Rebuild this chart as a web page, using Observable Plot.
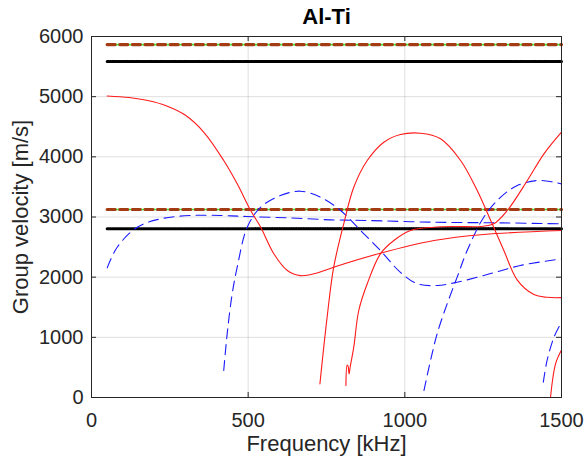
<!DOCTYPE html>
<html>
<head>
<meta charset="utf-8">
<script src="https://cdn.jsdelivr.net/npm/d3@7"></script>
<script src="https://cdn.jsdelivr.net/npm/@observablehq/plot@0.6"></script>
<style>
  html, body { margin: 0; padding: 0; background: #fff; }
  #chart svg { display: block; }
</style>
</head>
<body>
<div id="chart"></div>
<script>
// ---- data ----
const title = "Al-Ti";
const xLabel = "Frequency [kHz]";
const yLabel = "Group velocity [m/s]";
const xTicks = [0, 500, 1000, 1500];
const yTicks = [0, 1000, 2000, 3000, 4000, 5000, 6000];

// horizontal reference velocities (bulk waves)
const refFreq = [50, 1500];
const longVel = [5865, 3125];   // green solid + brown dashed
const shearVel = [5585, 2805];  // black dotted

// symmetric modes (red solid)
const red1 = [[50,5012],[120,4985],[180,4935],[240,4845],[300,4690],[360,4400],[422,3939],[465,3552],[508,3108],[540,2830],[582,2388],[625,2110],[667,2025],[720,2070],[773,2166],[922,2398],[1093,2609],[1252,2709],[1500,2775]];
const red2 = [[729,227],[752,1335],[773,2166],[805,2886],[837,3495],[880,3939],[933,4243],[986,4371],[1050,4393],[1114,4300],[1178,3939],[1231,3440],[1274,2942],[1316,2443],[1359,1950],[1412,1710],[1454,1665],[1500,1660]];
const red3 = [[812,200],[816,540],[819,520],[822,390],[826,520],[837,836],[853,1446],[880,1890],[922,2388],[965,2609],[1018,2775],[1093,2830],[1167,2842],[1242,2842],[1284,2886],[1327,3108],[1391,3607],[1444,4050],[1500,4410]];
const red4 = [[1465,5],[1481,560],[1500,790]];

// antisymmetric modes (blue dashed)
const blue1 = [[50,2155],[82,2498],[146,2830],[220,2969],[316,3025],[412,3025],[497,3008],[625,2986],[763,2953],[880,2942],[1093,2913],[1306,2903],[1500,2886]];
const blue2 = [[422,449],[433,1058],[449,1723],[465,2166],[497,2830],[540,3163],[603,3357],[667,3429],[731,3329],[795,3108],[859,2775],[922,2443],[986,2080],[1040,1890],[1103,1861],[1167,1916],[1263,2044],[1369,2194],[1500,2305]];
const blue3 = [[1061,116],[1082,615],[1103,1058],[1135,1557],[1167,2000],[1199,2443],[1252,2997],[1306,3329],[1359,3523],[1423,3607],[1476,3579],[1500,3551]];
const blue4 = [[1442,255],[1454,615],[1476,1002],[1500,1252]];

// ---- build ----
const redCurves = [red1, red2, red3, red4];
const blueCurves = [blue1, blue2, blue3, blue4];
const hLines = (vals) => vals.map(v => refFreq.map(f => [f, v]));

const W = 585, H = 468;
const mL = 91, mR = 24, mT = 36, mB = 71;
const xDom = [0, 1500], yDom = [0, 6000];
const tickPx = 5;
const tLenY = tickPx * (yDom[1] - yDom[0]) / (H - mT - mB);
const tLenX = tickPx * (xDom[1] - xDom[0]) / (W - mL - mR);
const ink = "#262626";
const fmt = d => String(d);

const marks = [
  Plot.gridX(xTicks, {stroke: "#000", strokeOpacity: 0.13}),
  Plot.gridY(yTicks, {stroke: "#000", strokeOpacity: 0.13}),
  // bulk-wave reference lines
  ...hLines(longVel).map(d => Plot.line(d, {x: "0", y: "1", stroke: "#33ff33", strokeWidth: 1.6})),
  ...hLines(longVel).map(d => Plot.line(d, {x: "0", y: "1", stroke: "#a33c14", strokeWidth: 3.2, strokeDasharray: "8,4.6"})),
  ...hLines(shearVel).map(d => Plot.line(d, {x: "0", y: "1", stroke: "#000", strokeWidth: 3, strokeDasharray: "1.6,0.8"})),
  // dispersion curves
  ...blueCurves.map(d => Plot.line(d, {x: "0", y: "1", stroke: "#1a1aff", strokeWidth: 1.1, strokeDasharray: "10,6", curve: "catmull-rom"})),
  ...redCurves.map(d => Plot.line(d, {x: "0", y: "1", stroke: "#ff1a1a", strokeWidth: 1.1, curve: "catmull-rom"})),
  // inward ticks (all four sides)
  Plot.ruleX(xTicks, {x: d => d, y1: yDom[0], y2: yDom[0] + tLenY, stroke: ink}),
  Plot.ruleX(xTicks, {x: d => d, y1: yDom[1] - tLenY, y2: yDom[1], stroke: ink}),
  Plot.ruleY(yTicks, {y: d => d, x1: xDom[0], x2: xDom[0] + tLenX, stroke: ink}),
  Plot.ruleY(yTicks, {y: d => d, x1: xDom[1] - tLenX, x2: xDom[1], stroke: ink}),
  Plot.frame({stroke: ink, strokeWidth: 1}),
  Plot.axisX(xTicks, {tickSize: 0, tickPadding: 15, fontSize: 20, fill: ink, label: null, tickFormat: fmt}),
  Plot.axisY(yTicks, {tickSize: 0, tickPadding: 8, fontSize: 20, fill: ink, label: null, tickFormat: fmt}),
  Plot.text([xLabel], {frameAnchor: "bottom", dy: 46, lineAnchor: "middle", textAnchor: "middle", fontSize: 22, fill: ink}),
  Plot.text([yLabel], {frameAnchor: "left", dx: -71, rotate: -90, textAnchor: "middle", lineAnchor: "middle", fontSize: 22, fill: ink}),
  Plot.text([title], {frameAnchor: "top", dy: -20, lineAnchor: "middle", textAnchor: "middle", fontSize: 22, fontWeight: "bold", fill: "#000"})
];

const chart = Plot.plot({
  width: W, height: H,
  marginLeft: mL, marginRight: mR, marginTop: mT, marginBottom: mB,
  x: {domain: xDom},
  y: {domain: yDom},
  style: {fontFamily: "'Liberation Sans', Arial, sans-serif", background: "#fff", overflow: "visible"},
  marks
});
document.getElementById("chart").appendChild(chart);
</script>
</body>
</html>
